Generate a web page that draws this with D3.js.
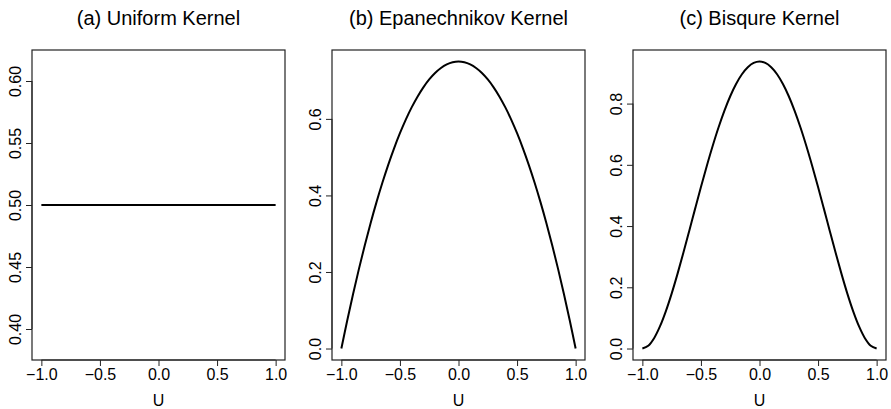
<!DOCTYPE html>
<html>
<head>
<meta charset="utf-8">
<script src="https://cdn.jsdelivr.net/npm/d3@7"></script>
<style>
  html, body { margin: 0; padding: 0; background: #fff; }
  svg { display: block; font-family: "Liberation Sans", Arial, Helvetica, sans-serif; }
</style>
</head>
<body>
<svg id="chart" width="891" height="409"></svg>
<script>
// Kernel weights on u in [-1, 1], sampled every 0.05
const uGrid = [-1.0, -0.95, -0.9, -0.85, -0.8, -0.75, -0.7, -0.65, -0.6, -0.55, -0.5,
               -0.45, -0.4, -0.35, -0.3, -0.25, -0.2, -0.15, -0.1, -0.05, 0.0,
               0.05, 0.1, 0.15, 0.2, 0.25, 0.3, 0.35, 0.4, 0.45, 0.5,
               0.55, 0.6, 0.65, 0.7, 0.75, 0.8, 0.85, 0.9, 0.95, 1.0];
const uniformU = [-1.0, 1.0];
const uniformK = [0.5, 0.5];
const epanK = [0.0, 0.0731, 0.1425, 0.2081, 0.27, 0.3281, 0.3825, 0.4331, 0.48, 0.5231, 0.5625,
               0.5981, 0.63, 0.6581, 0.6825, 0.7031, 0.72, 0.7331, 0.7425, 0.7481, 0.75,
               0.7481, 0.7425, 0.7331, 0.72, 0.7031, 0.6825, 0.6581, 0.63, 0.5981, 0.5625,
               0.5231, 0.48, 0.4331, 0.3825, 0.3281, 0.27, 0.2081, 0.1425, 0.0731, 0.0];
const bisqK = [0.0, 0.0089, 0.0338, 0.0722, 0.1215, 0.1794, 0.2438, 0.3127, 0.384, 0.4561, 0.5273,
               0.5963, 0.6615, 0.7219, 0.7763, 0.824, 0.864, 0.8958, 0.9188, 0.9328, 0.9375,
               0.9328, 0.9188, 0.8958, 0.864, 0.824, 0.7763, 0.7219, 0.6615, 0.5963, 0.5273,
               0.4561, 0.384, 0.3127, 0.2438, 0.1794, 0.1215, 0.0722, 0.0338, 0.0089, 0.0];

const titles = ["(a) Uniform Kernel", "(b) Epanechnikov Kernel", "(c) Bisqure Kernel"];
const xTicks = [-1.0, -0.5, 0.0, 0.5, 1.0];
const xTickLabels = ["\u22121.0", "\u22120.5", "0.0", "0.5", "1.0"];
const yTicksA = [0.40, 0.45, 0.50, 0.55, 0.60];
const yTicksB = [0.0, 0.2, 0.4, 0.6];
const yTicksC = [0.0, 0.2, 0.4, 0.6, 0.8];
const xLabel = "U";

const panels = [
  { title: titles[0], u: uniformU, k: uniformK, yDomain: [0.375, 0.625], yTicks: yTicksA, fmt: d3.format(".2f"), left: 32 },
  { title: titles[1], u: uGrid, k: epanK, yDomain: [-0.03, 0.78], yTicks: yTicksB, fmt: d3.format(".1f"), left: 332 },
  { title: titles[2], u: uGrid, k: bisqK, yDomain: [-0.0375, 0.975], yTicks: yTicksC, fmt: d3.format(".1f"), left: 633 }
];

const svg = d3.select("#chart");
const boxW = 253, boxTop = 50, boxBottom = 360, tickLen = 6;
const tickFont = 16;

panels.forEach(p => {
  const g = svg.append("g");
  const x = d3.scaleLinear().domain([-1.08, 1.08]).range([p.left, p.left + boxW]);
  const y = d3.scaleLinear().domain(p.yDomain).range([boxBottom, boxTop]);

  // title
  g.append("text")
    .attr("x", p.left + boxW / 2).attr("y", 25)
    .attr("text-anchor", "middle")
    .attr("font-size", 20).attr("fill", "#000")
    .text(p.title);

  // plot frame
  g.append("rect")
    .attr("x", p.left).attr("y", boxTop)
    .attr("width", boxW).attr("height", boxBottom - boxTop)
    .attr("fill", "none").attr("stroke", "#222").attr("stroke-width", 1.2);

  // x axis
  const xAxis = d3.axisBottom(x).tickValues(xTicks)
    .tickFormat((d, i) => xTickLabels[i]).tickSize(tickLen).tickPadding(3);
  const gx = g.append("g").attr("transform", `translate(0,${boxBottom})`).call(xAxis);
  gx.attr("font-family", null);
  gx.select(".domain").attr("d", `M${x(xTicks[0])},0H${x(xTicks[xTicks.length - 1])}`);
  gx.selectAll("text").attr("font-size", tickFont).attr("fill", "#000");
  gx.selectAll("line, path").attr("stroke", "#222");

  // y axis with rotated labels
  const yAxis = d3.axisLeft(y).tickValues(p.yTicks).tickFormat(p.fmt).tickSize(tickLen).tickPadding(4);
  const gy = g.append("g").attr("transform", `translate(${p.left},0)`).call(yAxis);
  gy.attr("font-family", null);
  gy.select(".domain").attr("d", `M0,${y(p.yTicks[0])}V${y(p.yTicks[p.yTicks.length - 1])}`);
  gy.selectAll("line, path").attr("stroke", "#222");
  gy.selectAll(".tick text")
    .attr("font-size", tickFont).attr("fill", "#000")
    .attr("x", null).attr("dy", "0.35em")
    .attr("text-anchor", "middle")
    .attr("transform", "translate(-17,0) rotate(-90)");

  // x label
  g.append("text")
    .attr("x", p.left + boxW / 2).attr("y", 406)
    .attr("text-anchor", "middle")
    .attr("font-size", tickFont).attr("fill", "#000")
    .text(xLabel);

  // kernel curve
  const pts = p.u.map((u, i) => [u, p.k[i]]);
  g.append("path")
    .datum(pts)
    .attr("fill", "none").attr("stroke", "#000").attr("stroke-width", 2)
    .attr("d", d3.line().x(d => x(d[0])).y(d => y(d[1])).curve(d3.curveCatmullRom.alpha(0.5)));
});
</script>
</body>
</html>
